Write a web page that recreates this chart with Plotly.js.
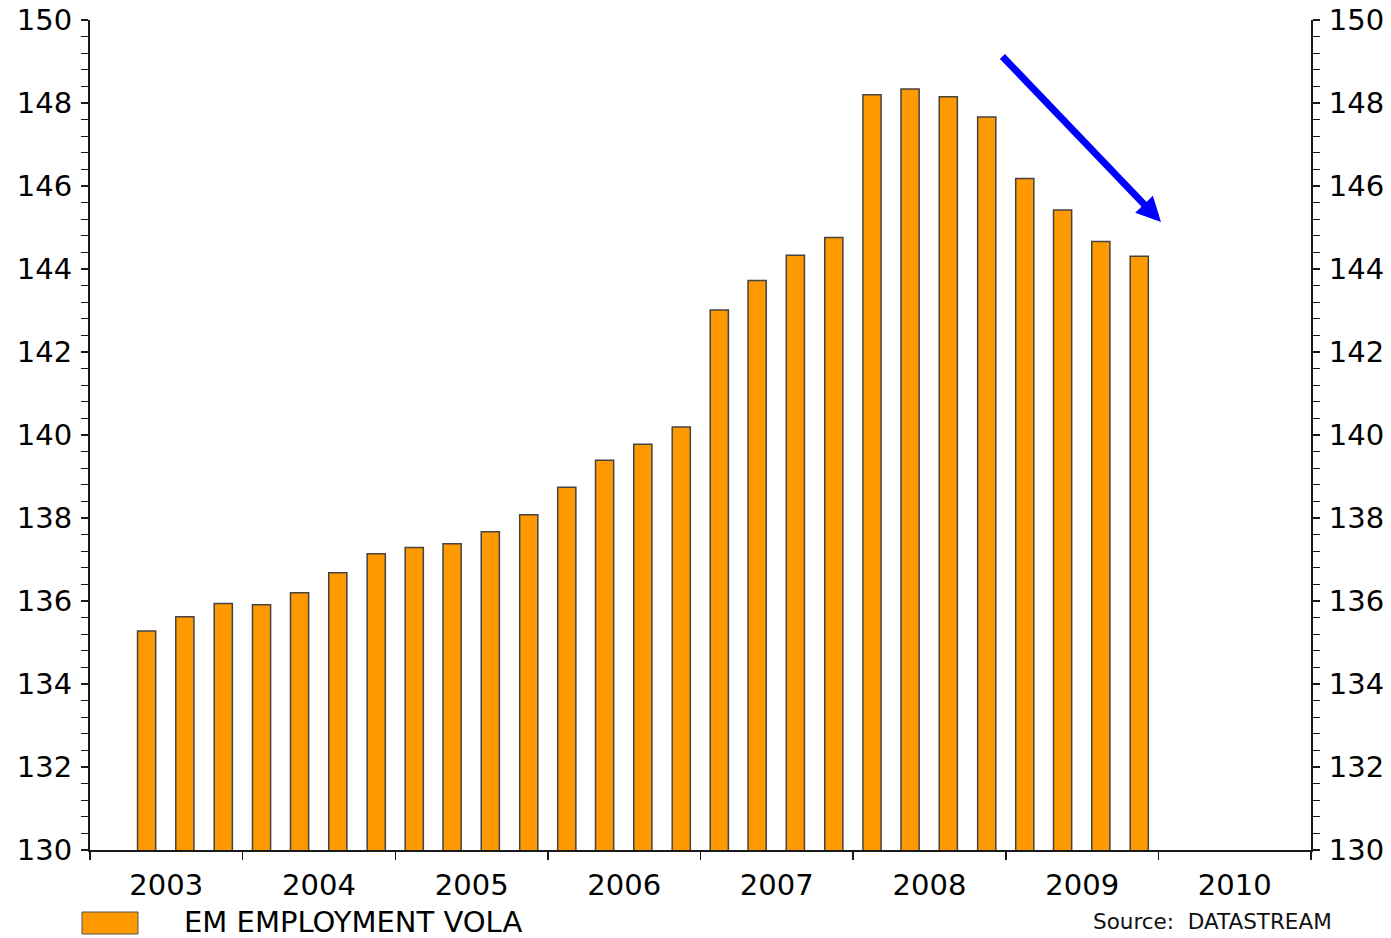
<!DOCTYPE html>
<html>
<head>
<meta charset="utf-8">
<script src="https://cdn.plot.ly/plotly-3.0.1.min.js"></script>
<style>html,body{margin:0;padding:0;background:#fff;}</style>
</head>
<body>
<div id="chart" style="width:1391px;height:938px;"></div>
<script>
// Quarter start dates (bars drawn at quarter middle)
var quarters = [
  '2003-04-01','2003-07-01','2003-10-01',
  '2004-01-01','2004-04-01','2004-07-01','2004-10-01',
  '2005-01-01','2005-04-01','2005-07-01','2005-10-01',
  '2006-01-01','2006-04-01','2006-07-01','2006-10-01',
  '2007-01-01','2007-04-01','2007-07-01','2007-10-01',
  '2008-01-01','2008-04-01','2008-07-01','2008-10-01',
  '2009-01-01','2009-04-01','2009-07-01','2009-10-01'
];
var emEmploymentVola = [
  135.28, 135.62, 135.94,
  135.91, 136.20, 136.68, 137.14,
  137.29, 137.38, 137.67, 138.08,
  138.74, 139.39, 139.78, 140.19,
  143.01, 143.72, 144.33, 144.76,
  148.20, 148.34, 148.15, 147.66,
  146.18, 145.42, 144.66, 144.31
];
var seriesName = 'EM EMPLOYMENT VOLA';
var sourceText = 'Source:  DATASTREAM';
var yRange = [130, 150];
var xRange = ['2003-01-01', '2011-01-01'];

var FONT = 'DejaVu Sans, Verdana, sans-serif';
var AXIS_COLOR = '#1a1a1a';

var traces = [
  {
    type: 'bar',
    name: seriesName,
    x: quarters,
    y: emEmploymentVola,
    xperiod: 'M3',
    xperiodalignment: 'middle',
    marker: { color: '#FF9900', line: { color: '#444444', width: 1.5 } },
    hoverinfo: 'x+y',
    showlegend: false
  },
  {
    type: 'scatter',
    mode: 'markers',
    x: quarters,
    y: emEmploymentVola,
    xperiod: 'M3',
    xperiodalignment: 'middle',
    yaxis: 'y2',
    marker: { opacity: 0 },
    hoverinfo: 'skip',
    showlegend: false
  }
];

var yCommon = {
  range: yRange,
  dtick: 2,
  tick0: 130,
  ticks: 'outside',
  ticklen: 7,
  tickwidth: 1.5,
  tickcolor: AXIS_COLOR,
  showline: true,
  linecolor: AXIS_COLOR,
  linewidth: 2,
  showgrid: false,
  zeroline: false,
  ticklabelstandoff: 3,
  tickfont: { family: FONT, size: 29, color: '#000' },
  minor: { dtick: 0.4, ticks: 'outside', ticklen: 7, tickwidth: 1, tickcolor: AXIS_COLOR, showgrid: false }
};

var layout = {
  width: 1391,
  height: 938,
  margin: { l: 90, r: 80, t: 20, b: 88 },
  paper_bgcolor: '#ffffff',
  plot_bgcolor: '#ffffff',
  bargap: 0.52,
  showlegend: false,
  xaxis: {
    type: 'date',
    range: xRange,
    tick0: '2003-01-01',
    dtick: 'M12',
    tickformat: '%Y',
    ticklabelmode: 'period',
    ticks: 'outside',
    ticklen: 8,
    tickwidth: 1.5,
    tickcolor: AXIS_COLOR,
    showline: true,
    linecolor: AXIS_COLOR,
    linewidth: 2,
    showgrid: false,
    zeroline: false,
    tickfont: { family: FONT, size: 29, color: '#000' }
  },
  yaxis: Object.assign({}, yCommon, { side: 'left' }),
  yaxis2: Object.assign({}, yCommon, { side: 'right', overlaying: 'y' }),
  shapes: [
    {
      type: 'rect', xref: 'paper', yref: 'paper',
      x0: (82 - 90) / 1221, x1: (138 - 90) / 1221,
      y0: (850 - 934) / 830, y1: (850 - 912) / 830,
      fillcolor: '#FF9900', line: { color: '#555555', width: 1 }
    }
  ],
  annotations: [
    {
      xref: 'paper', yref: 'paper',
      x: (182 - 90) / 1221, y: (850 - 922) / 830,
      xanchor: 'left', yanchor: 'middle',
      text: seriesName, showarrow: false,
      font: { family: FONT, size: 29, color: '#000' }
    },
    {
      xref: 'paper', yref: 'paper',
      x: (1334 - 90) / 1221, y: (850 - 921) / 830,
      xanchor: 'right', yanchor: 'middle',
      text: sourceText, showarrow: false,
      font: { family: FONT, size: 21.5, color: '#111' }
    },
    {
      xref: 'paper', yref: 'paper',
      x: (1161 - 90) / 1221, y: (850 - 222) / 830,
      axref: 'pixel', ayref: 'pixel',
      ax: -160, ay: -167,
      text: '', showarrow: true,
      arrowhead: 2, arrowsize: 0.7, arrowwidth: 7,
      arrowcolor: '#0000FF'
    }
  ]
};

Plotly.newPlot('chart', traces, layout, { displayModeBar: false, staticPlot: true });
</script>
</body>
</html>
